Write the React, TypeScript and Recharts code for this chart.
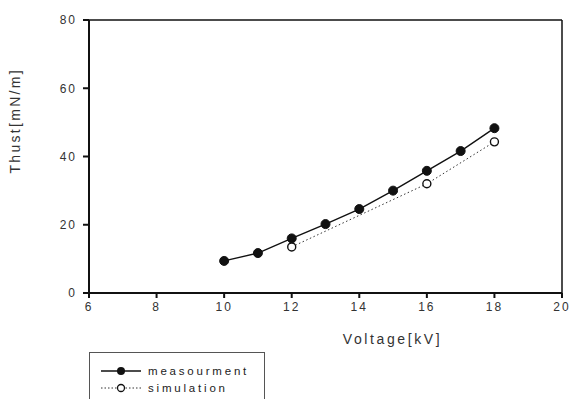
import React from 'react';
import { LineChart, Line, XAxis, YAxis, ReferenceLine } from 'recharts';

const voltage = [10, 11, 12, 13, 14, 15, 16, 17, 18];
const measurement = [9.4, 11.7, 16, 20.2, 24.6, 30, 35.8, 41.6, 48.3];
const simVoltage = [12, 16, 18];
const simulation = [13.5, 32, 44.3];
const xTicks = [6, 8, 10, 12, 14, 16, 18, 20];
const yTicks = [0, 20, 40, 60, 80];

const measData = voltage.map((v, i) => ({ v, thrust: measurement[i] }));
const simData = simVoltage.map((v, i) => ({ v, thrust: simulation[i] }));

const font = '"Liberation Sans", Arial, sans-serif';
const tickStyle = { fill: '#333', fontSize: 12, fontFamily: font, letterSpacing: 2 };

const LegendBox = () => (
    <div
        style={{
            position: 'absolute',
            left: 89,
            top: 352,
            border: '1.5px solid #555',
            width: 176,
            height: 60,
            fontFamily: font,
            fontSize: 11.5,
            letterSpacing: 2.8,
            color: '#222',
            boxSizing: 'border-box',
            paddingTop: 9,
        }}
    >
        <div style={{ display: 'flex', alignItems: 'center', height: 17 }}>
            <svg width={58} height={12}>
                <line x1={11} y1={6} x2={51} y2={6} stroke="#111" strokeWidth={1.3} />
                <circle cx={31} cy={6} r={4} fill="#111" />
            </svg>
            <span>measourment</span>
        </div>
        <div style={{ display: 'flex', alignItems: 'center', height: 17 }}>
            <svg width={58} height={12}>
                <line x1={11} y1={6} x2={51} y2={6} stroke="#333" strokeWidth={1} strokeDasharray="1.5 2" />
                <circle cx={31} cy={6} r={3.5} fill="#fff" stroke="#111" strokeWidth={1.3} />
            </svg>
            <span>simulation</span>
        </div>
    </div>
);

const App: React.FC = () => {
    return (
        <div style={{ position: 'absolute', left: 0, top: 0, width: 570, height: 399, background: '#fff', overflow: 'hidden' }}>
            <style>{'body{margin:0}'}</style>
            <LineChart width={570} height={399} margin={{ top: 20, right: 8, left: 0, bottom: 76 }}>
                <XAxis
                    type="number"
                    dataKey="v"
                    domain={[6, 20]}
                    ticks={xTicks}
                    allowDataOverflow
                    height={30}
                    stroke="#111"
                    strokeWidth={2}
                    tickSize={5}
                    tickMargin={4}
                    tick={tickStyle}
                    label={{ value: 'Voltage[kV]', position: 'insideBottom', dx: 67, dy: 26, fill: '#333', fontSize: 14, letterSpacing: 2.6, fontFamily: font }}
                />
                <YAxis
                    type="number"
                    domain={[0, 80]}
                    ticks={yTicks}
                    width={89}
                    stroke="#111"
                    strokeWidth={2}
                    tickSize={6}
                    tickMargin={6}
                    tick={tickStyle}
                    label={{ value: 'Thust[mN/m]', angle: -90, position: 'insideLeft', dx: 10, dy: 17, fill: '#333', fontSize: 14, letterSpacing: 2.3, fontFamily: font }}
                />
                <ReferenceLine y={80} stroke="#111" strokeWidth={1.5} />
                <ReferenceLine x={20} stroke="#111" strokeWidth={1.5} />
                <Line
                    data={measData}
                    dataKey="thrust"
                    name="measourment"
                    stroke="#111"
                    strokeWidth={1.4}
                    dot={{ r: 4.5, fill: '#111', stroke: '#111', strokeWidth: 1 }}
                    isAnimationActive={false}
                />
                <Line
                    data={simData}
                    dataKey="thrust"
                    name="simulation"
                    stroke="#333"
                    strokeWidth={1}
                    strokeDasharray="1.5 2.5"
                    dot={{ r: 4, fill: '#fff', stroke: '#111', strokeWidth: 1.4, strokeDasharray: '0' }}
                    isAnimationActive={false}
                />
            </LineChart>
            <LegendBox />
        </div>
    );
};

export default App;
